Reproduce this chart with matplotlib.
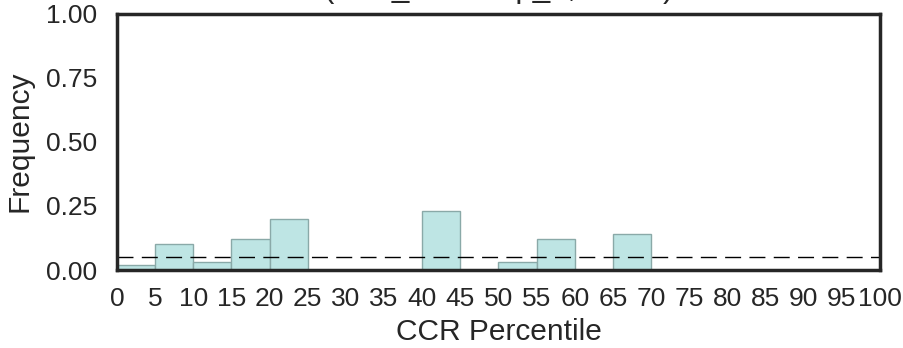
import matplotlib
matplotlib.use("Agg")
import matplotlib.pyplot as plt
import numpy as np

bin_edges = list(range(0, 105, 5))
bin_values = [0.02, 0.10, 0.03, 0.12, 0.20, 0.0, 0.0, 0.0, 0.23, 0.0,
              0.03, 0.12, 0.0, 0.14, 0.0, 0.0, 0.0, 0.0, 0.0, 0.0]
threshold = 0.05
title_text = "(ccrs_lowcomp_1, 0.050)"
tick_labels = [str(v) for v in bin_edges]

plt.rcParams['font.family'] = ['Liberation Sans', 'DejaVu Sans']
fig = plt.figure(figsize=(9.04, 3.48), dpi=100)
ax = fig.add_axes([117/904, 1 - 270/348, (880-117)/904, (270-13.5)/348])

ax.bar(bin_edges[:-1], bin_values, width=5, align='edge',
       color='#bee5e4', edgecolor='#8aa9a8', linewidth=1.0)
ax.axhline(threshold, color='black', linestyle=(0, (11.5, 6)), linewidth=1.0)

ax.set_xlim(0, 100)
ax.set_ylim(0, 1)
ax.set_xticks(bin_edges)
ax.set_xticklabels(tick_labels)
ax.set_yticks([0, 0.25, 0.5, 0.75, 1.0])
ax.set_yticklabels(["0.00", "0.25", "0.50", "0.75", "1.00"])
ax.tick_params(axis='both', length=0, labelsize=19, colors='#262626')
ax.tick_params(axis='x', pad=12)
ax.tick_params(axis='y', pad=14)
for s in ax.spines.values():
    s.set_linewidth(2.5)
    s.set_color('#262626')
ax.set_xlabel("CCR Percentile", fontsize=21.5, color='#262626')
ax.set_ylabel("Frequency", fontsize=21.5, color='#262626')
ax.xaxis.set_label_coords(0.5, -(318 - 270) / 256.5)
ax.yaxis.set_label_coords((34 - 117) / 763, 0.5)

fig.text(499/904, 1 - (-3)/348, title_text, ha='center', va='baseline',
         fontsize=22.5, color='#262626')

fig.savefig("out.png", dpi=100)
